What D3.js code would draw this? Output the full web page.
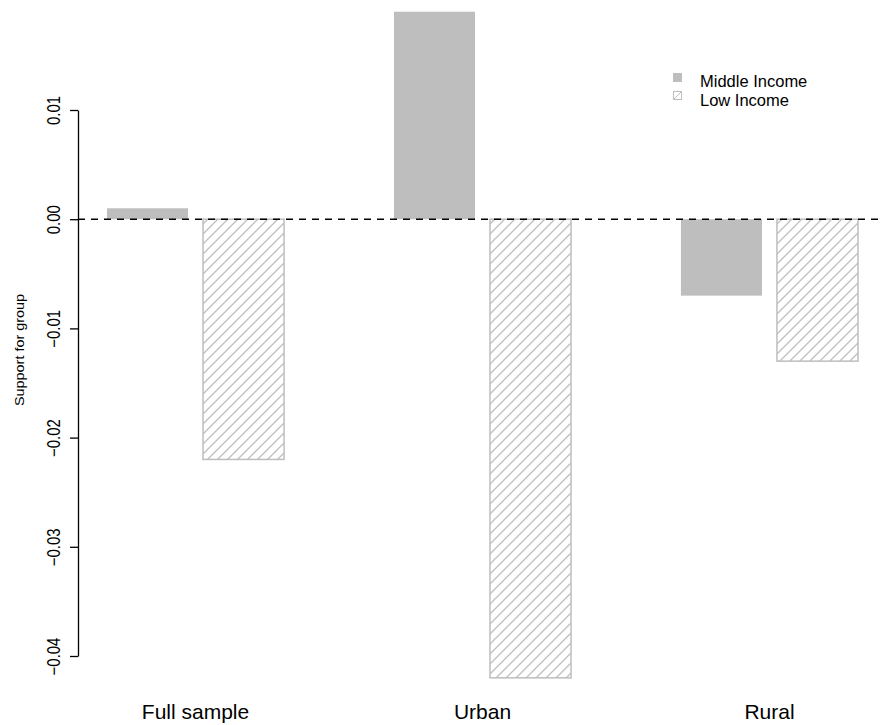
<!DOCTYPE html>
<html>
<head>
<meta charset="utf-8">
<script src="https://cdn.jsdelivr.net/npm/d3@7"></script>
<style>
  body { margin: 0; background: #fff; }
  svg { display: block; font-family: "Liberation Sans", Arial, sans-serif; }
</style>
</head>
<body>
<svg id="chart" width="880" height="725"></svg>
<script>
// values
const categories = ["Full sample", "Urban", "Rural"];
const seriesNames = ["Middle Income", "Low Income"];
const middleIncome = [0.001, 0.019, -0.007];
const lowIncome = [-0.022, -0.042, -0.013];
const yTicks = [0.01, 0.00, -0.01, -0.02, -0.03, -0.04];
const yLabel = "Support for group";

const grey = "#bebebe";

const svg = d3.select("#chart");

// hatch pattern for low income bars
svg.append("defs").append("pattern")
    .attr("id", "hatch")
    .attr("patternUnits", "userSpaceOnUse")
    .attr("width", 10)
    .attr("height", 10)
  .append("path")
    .attr("d", "M-1,1 l2,-2 M0,10 l10,-10 M9,11 l2,-2")
    .attr("stroke", grey)
    .attr("stroke-width", 1.3);

const y = d3.scaleLinear().domain([-0.04, 0.01]).range([656, 110]);
const x0 = d3.scaleBand().domain(categories).range([107, 858])
    .paddingInner(0.383).paddingOuter(0);
const x1 = d3.scaleBand().domain(seriesNames).range([0, x0.bandwidth()])
    .paddingInner(0.156);

const rows = categories.map((c, i) => ({
    cat: c,
    vals: [
        { s: seriesNames[0], v: middleIncome[i] },
        { s: seriesNames[1], v: lowIncome[i] }
    ]
}));

const groups = svg.selectAll("g.grp")
    .data(rows)
    .enter().append("g")
    .attr("class", "grp")
    .attr("transform", d => "translate(" + x0(d.cat) + ",0)");

groups.selectAll("rect")
    .data(d => d.vals)
    .enter().append("rect")
    .attr("x", d => x1(d.s))
    .attr("width", x1.bandwidth())
    .attr("y", d => y(Math.max(0, d.v)))
    .attr("height", d => Math.abs(y(d.v) - y(0)))
    .attr("fill", d => d.s === seriesNames[0] ? grey : "url(#hatch)")
    .attr("stroke", grey)
    .attr("stroke-width", d => d.s === seriesNames[0] ? 0 : 1.5);

// zero reference line
svg.append("line")
    .attr("x1", 78).attr("x2", 880)
    .attr("y1", y(0)).attr("y2", y(0))
    .attr("stroke", "#000")
    .attr("stroke-width", 1.5)
    .attr("stroke-dasharray", "7,6");

// y axis
const yAxis = svg.append("g")
    .attr("transform", "translate(78,0)")
    .call(d3.axisLeft(y).tickValues(yTicks).tickFormat(d3.format(".2f"))
        .tickSize(8).tickSizeOuter(0));
yAxis.select(".domain").attr("stroke-width", 1.3);
yAxis.selectAll(".tick line").attr("stroke-width", 1.3);
yAxis.selectAll(".tick text")
    .attr("x", 0)
    .attr("y", -18)
    .attr("dy", null)
    .attr("text-anchor", "middle")
    .attr("transform", "rotate(-90) scale(0.83,1)")
    .attr("font-size", 18)
    .attr("font-family", "Liberation Sans, Arial, sans-serif")
    .attr("fill", "#000");

svg.append("text")
    .attr("transform", "translate(23.5,350) rotate(-90) scale(1.2,1)")
    .attr("text-anchor", "middle")
    .attr("font-size", 12)
    .text(yLabel);

// category labels
svg.selectAll("text.cat")
    .data(categories)
    .enter().append("text")
    .attr("class", "cat")
    .attr("x", d => x0(d) + x0.bandwidth() / 2)
    .attr("y", 719)
    .attr("text-anchor", "middle")
    .attr("font-size", 21)
    .text(d => d);

// legend
const legend = svg.append("g").attr("transform", "translate(673,73)");
legend.append("rect")
    .attr("width", 9).attr("height", 9)
    .attr("fill", grey);
legend.append("rect")
    .attr("x", 0.5).attr("y", 18.5)
    .attr("width", 8).attr("height", 8)
    .attr("fill", "#fff")
    .attr("stroke", grey);
legend.append("line")
    .attr("x1", 1).attr("y1", 26).attr("x2", 8).attr("y2", 19)
    .attr("stroke", grey);
legend.selectAll("text")
    .data(seriesNames)
    .enter().append("text")
    .attr("x", 27)
    .attr("y", (d, i) => 14 + i * 19)
    .attr("font-size", 16.5)
    .text(d => d);
</script>
</body>
</html>
